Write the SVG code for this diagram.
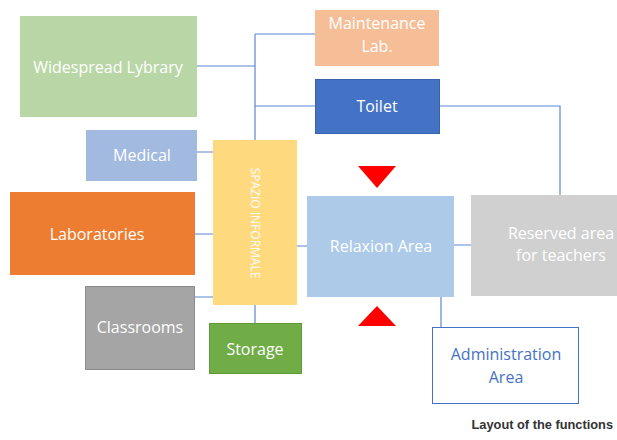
<svg xmlns="http://www.w3.org/2000/svg" width="617" height="440" viewBox="0 0 617 440">
<style>
.t{font-family:"Open Sans","Noto Sans",sans-serif;font-size:16px;fill:#ffffff;text-anchor:middle}
.c{stroke:#5B86D4;stroke-width:1.2;fill:none}
.tri{fill:#FF0000}
</style>
<rect width="617" height="440" fill="#ffffff"/>
<g id="connectors">
<path class="c" d="M255 34V140M255 34H315M197 66H255M255 106H315"/>
<path class="c" d="M197 152H213M195 234H213M195 297H213M255 305V323"/>
<path class="c" d="M297 246H307M454 245H471M440 106H560V195M441 297V327"/>
</g>
<g id="lybrary"><rect x="20" y="16" width="177" height="101" fill="#B9D7A6"/><text class="t" x="108" y="73">Widespread Lybrary</text></g>
<g id="medical"><rect x="86" y="130" width="111" height="51" fill="#A2B9E0"/><text class="t" x="142" y="161">Medical</text></g>
<g id="laboratories"><rect x="10" y="192" width="185" height="83" fill="#ED7D31"/><text class="t" x="97" y="240">Laboratories</text></g>
<g id="classrooms"><rect x="85.5" y="286.5" width="109" height="83" fill="#A5A5A5" stroke="#8C8C8C"/><text class="t" x="140" y="333">Classrooms</text></g>
<g id="storage"><rect x="209.5" y="323.5" width="92" height="50" fill="#70AD47" stroke="#5E9A38"/><text class="t" x="255" y="355">Storage</text></g>
<g id="spazio"><rect x="213" y="140" width="84" height="165" fill="#FFD97D"/><text x="0" y="0" transform="translate(251 223) rotate(90)" style="font-family:'Open Sans','Noto Sans',sans-serif;font-size:12px;fill:#ffffff;text-anchor:middle">SPAZIO INFORMALE</text></g>
<g id="maintenance"><rect x="315" y="10" width="124" height="56" fill="#F5BE96"/><text class="t" x="377" y="29">Maintenance</text><text class="t" x="377" y="52">Lab.</text></g>
<g id="toilet"><rect x="315.5" y="79.5" width="124" height="54" fill="#4472C4" stroke="#3A63AD"/><text class="t" x="377" y="112">Toilet</text></g>
<g id="relaxion"><rect x="307" y="196" width="147" height="101" fill="#ADCBE9"/><text class="t" x="381" y="252">Relaxion Area</text></g>
<g id="reserved"><rect x="471" y="195" width="146" height="101" fill="#D0D0D0"/><text class="t" x="561" y="239">Reserved area</text><text class="t" x="561" y="261">for teachers</text></g>
<g id="administration"><rect x="432.5" y="327.5" width="146" height="76" fill="#ffffff" stroke="#4472C4"/><text class="t" x="506" y="360" style="fill:#4472C4">Administration</text><text class="t" x="506" y="383" style="fill:#4472C4">Area</text></g>
<g id="arrows"><polygon class="tri" points="358,166 396,166 377,188"/><polygon class="tri" points="377,306 396,326 358,326"/></g>
<text x="613" y="429" style="font-family:'Liberation Sans',Arial,sans-serif;font-weight:bold;font-size:12.8px;fill:#333333;text-anchor:end">Layout of the functions</text>
</svg>
